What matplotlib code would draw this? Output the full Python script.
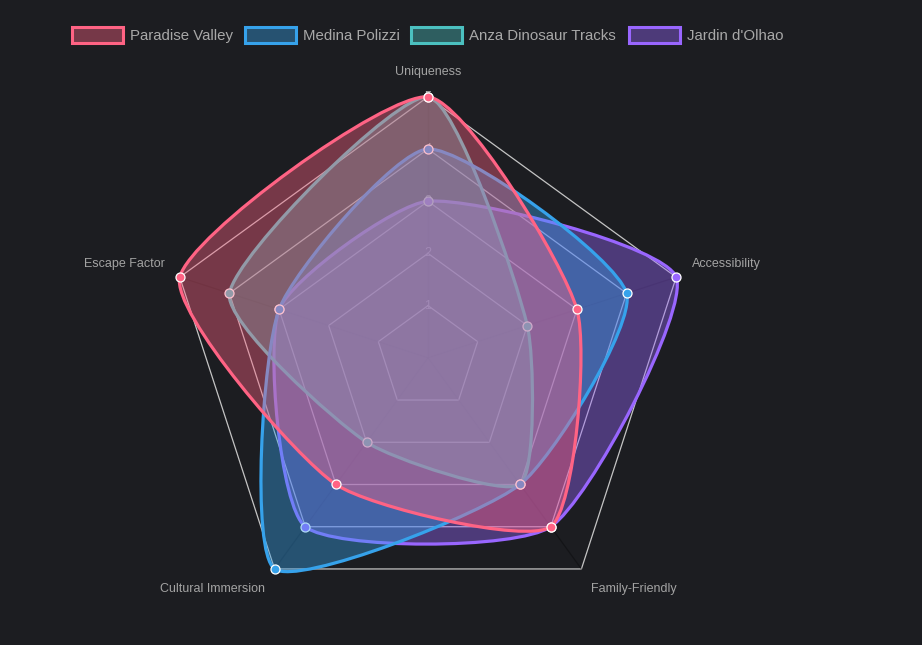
import numpy as np
import matplotlib.pyplot as plt
from matplotlib.path import Path
from matplotlib.patches import PathPatch, Rectangle

plt.rcParams['font.family'] = ['Liberation Sans', 'DejaVu Sans']

# data
labels = ['Uniqueness', 'Accessibility', 'Family-Friendly', 'Cultural Immersion', 'Escape Factor']
names = ['Paradise Valley', 'Medina Polizzi', 'Anza Dinosaur Tracks', "Jardin d'Olhao"]
paradise = [5, 3, 4, 3, 5]
medina = [4, 4, 3, 5, 3]
anza = [5, 2, 3, 2, 4]
jardin = [3, 5, 4, 4, 3]
ticks = [1, 2, 3, 4, 5]
colors = ['#ff6384', '#36a2eb', '#4bc0c0', '#9966ff']

BG = '#1c1d21'
W, H = 922, 645
CX, CY, UNIT = 428, 357.8, 52.2  # chart centre (px) and px per unit
TENSION = 0.2


def spline_path(pts, t):
    n = len(pts)
    cps = []
    for i in range(n):
        p0, p1, p2 = pts[i - 1], pts[i], pts[(i + 1) % n]
        d01 = np.hypot(*(p1 - p0))
        d12 = np.hypot(*(p2 - p1))
        s = d01 + d12
        fa, fb = t * d01 / s, t * d12 / s
        cps.append((p1 - fa * (p2 - p0), p1 + fb * (p2 - p0)))
    verts = [pts[0]]
    codes = [Path.MOVETO]
    for i in range(n):
        j = (i + 1) % n
        verts += [cps[i][1], cps[j][0], pts[j]]
        codes += [Path.CURVE4] * 3
    verts.append(pts[0])
    codes.append(Path.CLOSEPOLY)
    return Path(verts, codes)


fig = plt.figure(figsize=(W / 100, H / 100), dpi=100, facecolor=BG)
ax = fig.add_axes([0, 0, 1, 1])
ax.set_facecolor(BG)
ax.set_xlim(-CX / UNIT, (W - CX) / UNIT)
ax.set_ylim(-(H - CY) / UNIT, CY / UNIT)
ax.axis('off')

ang = np.deg2rad(90 - 72 * np.arange(len(labels)))
dirs = np.column_stack([np.cos(ang), np.sin(ang)])

# grid rings
for t in ticks:
    ring = np.vstack([dirs * t, dirs[:1] * t])
    ax.plot(ring[:, 0], ring[:, 1], color='#c4c4c4', lw=0.9, zorder=1)
    ax.text(0, t, str(t), color='#b0b0b0', fontsize=9, ha='center', va='center', zorder=1.2)
# angle lines
for d in dirs:
    ax.plot([0, d[0] * 5], [0, d[1] * 5], color=(0, 0, 0, 0.3), lw=0.9, zorder=1.1)

series = [paradise, medina, anza, jardin]
# drawn last-to-first so the first dataset sits on top
for k in range(len(series) - 1, -1, -1):
    z = 2 + (len(series) - k)
    pts = dirs * np.array(series[k], dtype=float)[:, None]
    path = spline_path(pts, TENSION)
    ax.add_patch(PathPatch(path, facecolor=colors[k], alpha=0.4, edgecolor='none', zorder=z))
    ax.add_patch(PathPatch(path, facecolor='none', edgecolor=colors[k], lw=2.3, zorder=z + 0.1))
    ax.plot(pts[:, 0], pts[:, 1], 'o', ms=6.5, mfc=colors[k], mec='white', mew=0.9, zorder=z + 0.2)

# overlay in pixel coordinates for text
lax = fig.add_axes([0, 0, 1, 1])
lax.set_xlim(0, W)
lax.set_ylim(H, 0)
lax.axis('off')

lab_pos = [(428, 72, 'center'), (692, 264, 'left'), (591, 589, 'left'),
           (265, 589, 'right'), (165, 264, 'right')]
for txt, (x, y, ha) in zip(labels, lab_pos):
    lax.text(x, y, txt, color='#a3a3a3', fontsize=9, ha=ha, va='center')

leg_x = [72, 245, 411, 629]
for name, c, x in zip(names, colors, leg_x):
    lax.add_patch(Rectangle((x, 27), 51, 16, facecolor=c, alpha=0.4, edgecolor='none'))
    lax.add_patch(Rectangle((x, 27), 51, 16, facecolor='none', edgecolor=c, lw=2.2))
    lax.text(x + 58, 36, name, color='#a8a8a8', fontsize=10.8, ha='left', va='center')

fig.savefig('out.png', dpi=100, facecolor=BG)
